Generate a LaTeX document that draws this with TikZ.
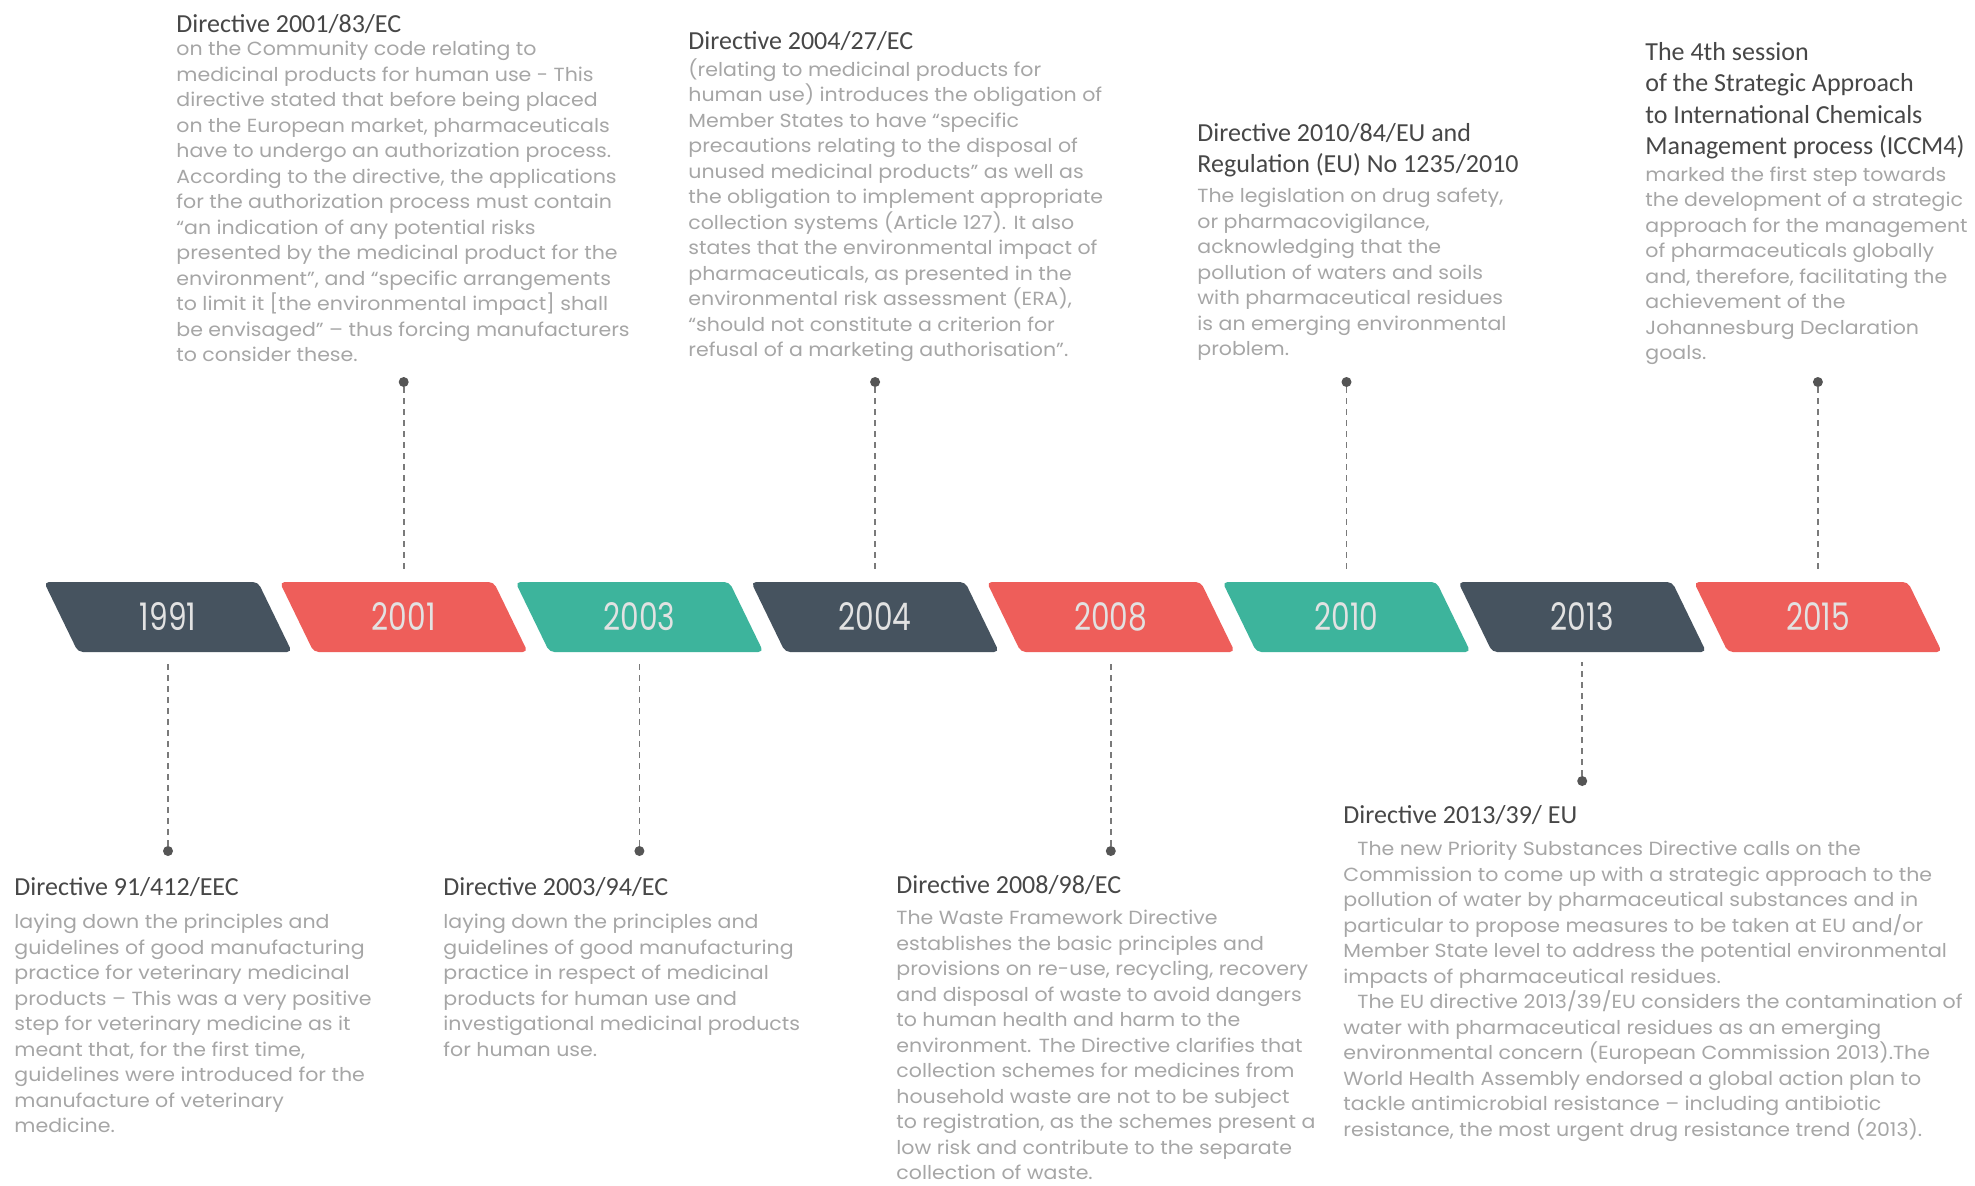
\documentclass[tikz,border=0pt]{standalone}
\usepackage{fontspec}
\setmainfont[FakeStretch=1.08]{Poppins}
\newfontfamily\headfont{Carlito}
\newfontfamily\yearfont[FakeStretch=0.78]{Poppins}
\usetikzlibrary{positioning}
\definecolor{darkslate}{HTML}{46535F}
\definecolor{coralred}{HTML}{EE5E5A}
\definecolor{jadegreen}{HTML}{3DB49C}
\definecolor{headgray}{HTML}{474747}
\definecolor{bodygray}{HTML}{A6A6A6}
\definecolor{yeartext}{HTML}{E2E2E2}
\definecolor{dotgray}{HTML}{555555}
\definecolor{linegray}{HTML}{7A7A7A}
\begin{document}
\begin{tikzpicture}[x=0.5pt, y=-0.5pt,
    yearbox/.style={minimum width=107pt, minimum height=35pt, inner sep=0pt, text=yeartext,
      font=\yearfont\fontsize{19}{19}\selectfont},
    dot/.style={circle, fill=dotgray, inner sep=0pt, minimum size=5pt},
    leader/.style={draw=linegray, line width=0.9pt, dash pattern=on 3pt off 2.5pt, shorten >=5pt},
    heading/.style={anchor=north west, inner sep=0pt, align=left, text=headgray,
      font=\headfont\fontsize{13}{15.7}\selectfont},
    body/.style={inner sep=0pt, align=left, text=bodygray,
      font=\fontsize{9.5}{12.75}\selectfont}]
  \fill[white] (0,0) rectangle (1975,1185);
  \useasboundingbox (0,0) rectangle (1975,1185);

  \foreach \yr/\col [count=\i from 0] in {1991/darkslate, 2001/coralred, 2003/jadegreen,
      2004/darkslate, 2008/coralred, 2010/jadegreen, 2013/darkslate, 2015/coralred}{
    \coordinate (c\yr) at (168+235.7*\i, 617);
    \fill[\col, rounded corners=2.5pt] ([shift={(-62pt,17.5pt)}]c\yr) -- ([shift={(45pt,17.5pt)}]c\yr)
      -- ([shift={(62pt,-17.5pt)}]c\yr) -- ([shift={(-45pt,-17.5pt)}]c\yr) -- cycle;
    \node[yearbox] (y\yr) at (c\yr) {\yr};
  }

  \foreach \yr in {2001, 2004, 2010, 2015}
    \node[dot] (d\yr) at (y\yr |- 0,382) {};
  \foreach \yr in {1991, 2003, 2008}
    \node[dot] (d\yr) at (y\yr |- 0,851) {};
  \node[dot] (d2013) at (y2013 |- 0,781) {};
  \foreach \yr in {1991, 2001, 2003, 2004, 2008, 2010, 2013, 2015}
    \draw[leader] (d\yr) -- (y\yr);

  \node[heading] (t2001) at (176,14) {Directive 2001/83/EC};
  \node[body, below=3.5pt of t2001.south west, anchor=north west] (b2001) {on the Community code relating to\\
    medicinal products for human use - This\\
    directive stated that before being placed\\
    on the European market, pharmaceuticals\\
    have to undergo an authorization process.\\
    According to the directive, the applications\\
    for the authorization process must contain\\
    “an indication of any potential risks\\
    presented by the medicinal product for the\\
    environment”, and “specific arrangements\\
    to limit it [the environmental impact] shall\\
    be envisaged” – thus forcing manufacturers\\
    to consider these.};

  \node[heading] (t2004) at (688,31) {Directive 2004/27/EC};
  \node[body, below=3.5pt of t2004.south west, anchor=north west] (b2004) {(relating to medicinal products for\\
    human use) introduces the obligation of\\
    Member States to have “specific\\
    precautions relating to the disposal of\\
    unused medicinal products” as well as\\
    the obligation to implement appropriate\\
    collection systems (Article 127). It also\\
    states that the environmental impact of\\
    pharmaceuticals, as presented in the\\
    environmental risk assessment (ERA),\\
    “should not constitute a criterion for\\
    refusal of a marketing authorisation”.};

  \node[heading] (t2010) at (1197,123) {Directive 2010/84/EU and\\Regulation (EU) No 1235/2010};
  \node[body, below=5pt of t2010.south west, anchor=north west] (b2010) {The legislation on drug safety,\\
    or pharmacovigilance,\\
    acknowledging that the\\
    pollution of waters and soils\\
    with pharmaceutical residues\\
    is an emerging environmental\\
    problem.};

  \node[heading] (t2015) at (1645,42) {The 4th session\\of the Strategic Approach\\to International Chemicals\\Management process (ICCM4)};
  \node[body, below=3.5pt of t2015.south west, anchor=north west] (b2015) {marked the first step towards\\
    the development of a strategic\\
    approach for the management\\
    of pharmaceuticals globally\\
    and, therefore, facilitating the\\
    achievement of the\\
    Johannesburg Declaration\\
    goals.};

  \node[heading] (t1991) at (14,877) {Directive 91/412/EEC};
  \node[body, below=8.5pt of t1991.south west, anchor=north west] (b1991) {laying down the principles and\\
    guidelines of good manufacturing\\
    practice for veterinary medicinal\\
    products – This was a very positive\\
    step for veterinary medicine as it\\
    meant that, for the first time,\\
    guidelines were introduced for the\\
    manufacture of veterinary\\
    medicine.};

  \node[heading] (t2003) at (443,877) {Directive 2003/94/EC};
  \node[body, below=8.5pt of t2003.south west, anchor=north west] (b2003) {laying down the principles and\\
    guidelines of good manufacturing\\
    practice in respect of medicinal\\
    products for human use and\\
    investigational medicinal products\\
    for human use.};

  \node[heading] (t2008) at (896,875) {Directive 2008/98/EC};
  \node[body, below=7.5pt of t2008.south west, anchor=north west] (b2008) {The Waste Framework Directive\\
    establishes the basic principles and\\
    provisions on re-use, recycling, recovery\\
    and disposal of waste to avoid dangers\\
    to human health and harm to the\\
    environment. The Directive clarifies that\\
    collection schemes for medicines from\\
    household waste are not to be subject\\
    to registration, as the schemes present a\\
    low risk and contribute to the separate\\
    collection of waste.};

  \node[heading] (t2013) at (1343,805) {Directive 2013/39/ EU};
  \node[body, below=8pt of t2013.south west, anchor=north west] (b2013) {\hspace*{7pt}The new Priority Substances Directive calls on the\\
    Commission to come up with a strategic approach to the\\
    pollution of water by pharmaceutical substances and in\\
    particular to propose measures to be taken at EU and/or\\
    Member State level to address the potential environmental\\
    impacts of pharmaceutical residues.\\
    \hspace*{7pt}The EU directive 2013/39/EU considers the contamination of\\
    water with pharmaceutical residues as an emerging\\
    environmental concern (European Commission 2013).The\\
    World Health Assembly endorsed a global action plan to\\
    tackle antimicrobial resistance – including antibiotic\\
    resistance, the most urgent drug resistance trend (2013).};
\end{tikzpicture}
\end{document}
